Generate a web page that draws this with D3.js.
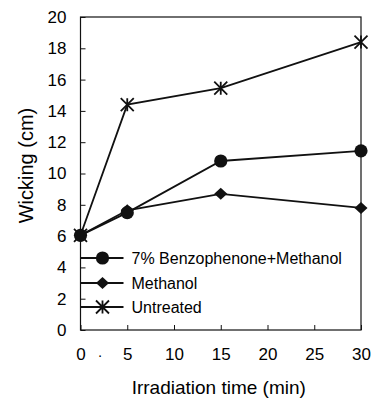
<!DOCTYPE html>
<html lang="en">
<head>
<meta charset="UTF-8">
<title>Wicking vs irradiation time</title>
<script src="https://cdn.jsdelivr.net/npm/d3@7"></script>
<style>
  body { margin: 0; background: #fff; }
  text { font-family: "Liberation Sans", Arial, sans-serif; fill: #000; }
</style>
</head>
<body>
<div id="chart"></div>
<script>
// data
const times = [0, 5, 15, 30];
const benzophenone = [6.05, 7.5, 10.8, 11.45];
const methanol = [6.05, 7.65, 8.7, 7.8];
const untreated = [6.05, 14.4, 15.45, 18.4];
const xTicks = [0, 5, 10, 15, 20, 25, 30];
const yTicks = [0, 2, 4, 6, 8, 10, 12, 14, 16, 18, 20];
const seriesNames = ["7% Benzophenone+Methanol", "Methanol", "Untreated"];

const W = 374, H = 400;
const margin = {top: 17, right: 13, bottom: 70, left: 80.5};

const svg = d3.select("#chart").append("svg")
    .attr("width", W)
    .attr("height", H);

const x = d3.scaleLinear().domain([0, 30]).range([margin.left, W - margin.right]);
const y = d3.scaleLinear().domain([0, 20]).range([H - margin.bottom, margin.top]);

// frame
svg.append("rect")
    .attr("x", x(0)).attr("y", y(20))
    .attr("width", x(30) - x(0)).attr("height", y(0) - y(20))
    .attr("fill", "none").attr("stroke", "#111").attr("stroke-width", 1.2);

// y axis (ticks pointing inward)
const yAxis = svg.append("g")
    .attr("transform", `translate(${x(0)},0)`)
    .call(d3.axisLeft(y).tickValues(yTicks).tickSizeInner(-5).tickSizeOuter(0).tickPadding(14));
yAxis.select(".domain").remove();
yAxis.selectAll("line").attr("stroke", "#111").attr("stroke-width", 1);
yAxis.selectAll("text").attr("font-size", 17).attr("fill", "#000")
    .attr("font-family", '"Liberation Sans", Arial, sans-serif');

// x axis
const xAxis = svg.append("g")
    .attr("transform", `translate(0,${y(0)})`)
    .call(d3.axisBottom(x).tickValues(xTicks).tickSizeInner(-5).tickSizeOuter(0).tickPadding(18));
xAxis.select(".domain").remove();
xAxis.selectAll("line").attr("stroke", "#111").attr("stroke-width", 1);
xAxis.selectAll("text").attr("font-size", 17).attr("fill", "#000")
    .attr("font-family", '"Liberation Sans", Arial, sans-serif');

// stray dot next to 0 in the original
svg.append("text")
    .attr("x", x(2.1)).attr("y", y(0) + 30)
    .attr("text-anchor", "middle").attr("font-size", 14)
    .text("·");

// axis titles
svg.append("text")
    .attr("x", (x(0) + x(30)) / 2 - 2).attr("y", 394)
    .attr("text-anchor", "middle").attr("font-size", 19)
    .text("Irradiation time (min)");

svg.append("text")
    .attr("transform", `translate(33,${y(10) - 8}) rotate(-90)`)
    .attr("text-anchor", "middle").attr("font-size", 20)
    .text("Wicking (cm)");

// markers
function drawMarker(g, kind, cx, cy) {
  if (kind === 0) {
    g.append("circle").attr("cx", cx).attr("cy", cy).attr("r", 6.6).attr("fill", "#111");
  } else if (kind === 1) {
    g.append("path")
      .attr("d", `M${cx},${cy - 6}L${cx + 6.5},${cy}L${cx},${cy + 6}L${cx - 6.5},${cy}Z`)
      .attr("fill", "#111");
  } else {
    const r = 6.5;
    g.append("path")
      .attr("d", `M${cx},${cy - r}V${cy + r}M${cx - r},${cy - r}L${cx + r},${cy + r}M${cx - r},${cy + r}L${cx + r},${cy - r}`)
      .attr("fill", "none").attr("stroke", "#111").attr("stroke-width", 1.8);
  }
}

const line = d3.line().x(d => x(d[0])).y(d => y(d[1]));
const allSeries = [benzophenone, methanol, untreated];

// draw untreated first so the filled markers sit on top at t=0
[2, 1, 0].forEach(i => {
  const pts = times.map((t, j) => [t, allSeries[i][j]]);
  const g = svg.append("g");
  g.append("path").datum(pts)
    .attr("d", line)
    .attr("fill", "none").attr("stroke", "#111").attr("stroke-width", 1.8);
  pts.forEach(p => drawMarker(g, i, x(p[0]), y(p[1])));
});

// legend inside the plot
const legendRows = [258, 283, 307];
seriesNames.forEach((name, i) => {
  const g = svg.append("g");
  const ly = legendRows[i];
  g.append("line")
    .attr("x1", x(0)).attr("x2", x(0) + 43)
    .attr("y1", ly).attr("y2", ly)
    .attr("stroke", "#111").attr("stroke-width", 1.8);
  drawMarker(g, i, x(0) + 22, ly);
  g.append("text")
    .attr("x", x(0) + 51).attr("y", ly + 5.5)
    .attr("font-size", 16)
    .text(name);
});
</script>
</body>
</html>
